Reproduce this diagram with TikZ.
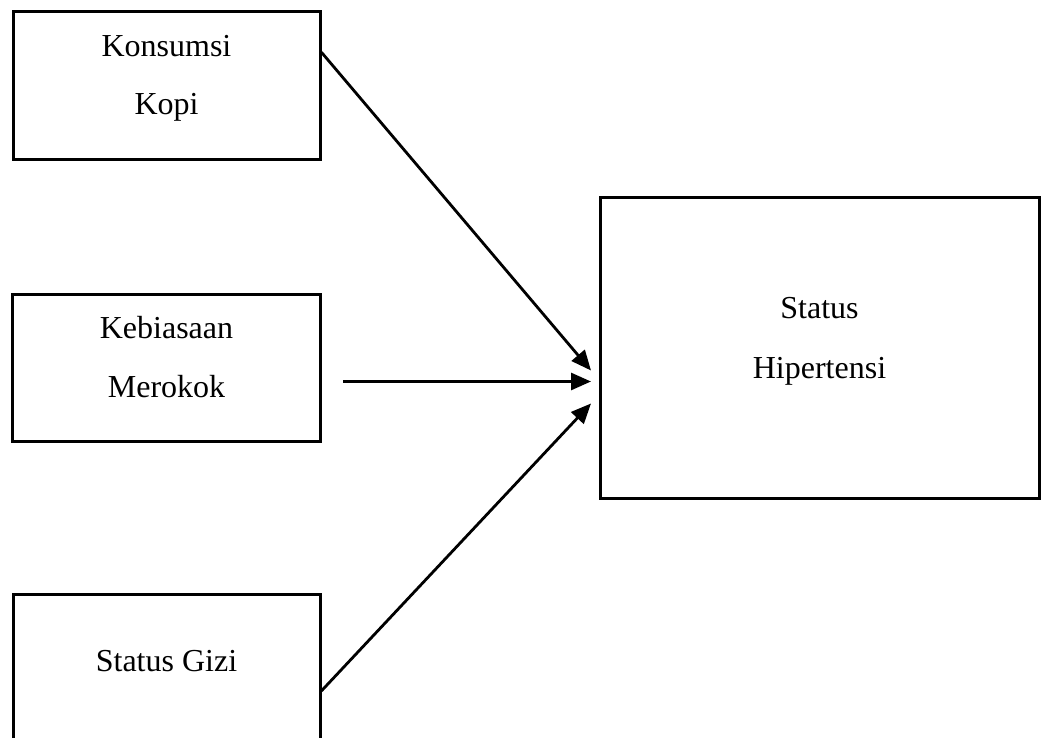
\documentclass[tikz,border=0pt]{standalone}
\usepackage{fontspec}
\setmainfont{Liberation Serif}
\usetikzlibrary{arrows.meta,calc}
\begin{document}
\begin{tikzpicture}[x=0.5pt,y=-0.5pt,
  box/.style={draw,line width=1.5pt,rectangle,inner sep=0pt},
  lbl/.style={anchor=base,inner sep=0pt,font=\fontsize{16}{19}\selectfont},
  conn/.style={line width=1.4pt,-{Triangle[length=10pt,width=8.5pt]}}]
\useasboundingbox (0,0) rectangle (1045,738);
\clip (0,0) rectangle (1045,738);
\node[box,minimum width=307*0.5pt,minimum height=148*0.5pt] (k) at (166.5,86) {};
\node[box,minimum width=308*0.5pt,minimum height=147*0.5pt] (m) at (166,367.5) {};
\node[box,minimum width=307*0.5pt,minimum height=172*0.5pt] (g) at (166.5,680) {};
\node[box,minimum width=439*0.5pt,minimum height=300*0.5pt] (h) at (819.5,348) {};
\node[lbl] (k1) at (166.5,57) {Konsumsi};
\node[lbl] (k2) at (166.5,115) {Kopi};
\node[lbl] (m1) at (166.5,338) {Kebiasaan};
\node[lbl] (m2) at (166.5,397) {Merokok};
\node[lbl] (g1) at (166.5,671) {Status Gizi};
\node[lbl] (h1) at (819.5,318) {Status};
\node[lbl] (h2) at (819.5,378) {Hipertensi};
\coordinate (t1) at (591,370.5);
\coordinate (s2) at (343,381.5);
\coordinate (t2) at (591,381.5);
\coordinate (t3) at (591,403.5);
\draw[conn] ($(k.north east)!0.277!(k.south east)$) -- (t1);
\draw[conn] (s2) -- (t2);
\draw[conn] ($(g.north east)!0.562!(g.south east)$) -- (t3);
\end{tikzpicture}
\end{document}
